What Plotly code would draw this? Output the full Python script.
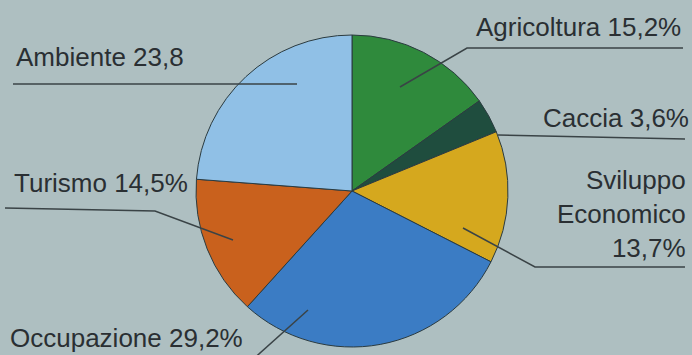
import plotly.graph_objects as go

# ---- data ----
categories = ["Agricoltura", "Caccia", "Sviluppo Economico", "Occupazione", "Turismo", "Ambiente"]
values = [15.2, 3.6, 13.7, 29.2, 14.5, 23.8]
label_texts = ["Agricoltura 15,2%", "Caccia 3,6%", "Sviluppo<br>Economico<br>13,7%",
               "Occupazione 29,2%", "Turismo 14,5%", "Ambiente 23,8"]
colors = ["#2f8a3c", "#1f4d3e", "#d5a81e", "#3b7cc4", "#c9611d", "#90c0e6"]

W, H = 692, 355
BG = "#aebfc1"
TEXT = "#2a2f33"
LINE = "#3a4346"

def px(x, y):
    return x / W, 1 - y / H

# pie geometry (pixels)
cx, cy, r = 352, 191, 156
x0, y0 = px(cx - r, cy + r)
x1, y1 = px(cx + r, cy - r)

fig = go.Figure(go.Pie(
    labels=categories,
    values=values,
    sort=False,
    direction="clockwise",
    rotation=0,
    marker=dict(colors=colors, line=dict(color="#2b3b40", width=1)),
    textinfo="none",
    hoverinfo="label+percent",
    showlegend=False,
    domain=dict(x=[x0, x1], y=[y0, y1]),
))

# label placements: (text index, x px, y px center, xanchor, align)
placements = [
    (5, 14, 57, "left", "left"),
    (0, 474, 27, "left", "left"),
    (1, 541, 118, "left", "left"),
    (2, 688, 214, "right", "right"),
    (4, 12, 183, "left", "left"),
    (3, 8, 338, "left", "left"),
]
annotations = []
for idx, x, y, xa, al in placements:
    ax, ay = px(x, y)
    annotations.append(dict(
        text=label_texts[idx], x=ax, y=ay, xref="paper", yref="paper",
        xanchor=xa, yanchor="middle", align=al, showarrow=False,
        font=dict(family="Liberation Sans, Arial, sans-serif", size=26, color=TEXT),
    ))

# leader lines (pixel polylines)
leaders = [
    [(13, 84), (297, 84)],
    [(683, 48), (467, 48), (400, 87)],
    [(498, 135), (685, 139)],
    [(463, 228), (535, 267), (685, 267)],
    [(5, 208), (155, 211), (233, 240)],
    [(308, 310), (250, 362)],
]
shapes = []
for pts in leaders:
    path = ""
    for i, (x, y) in enumerate(pts):
        a, b = px(x, y)
        path += ("M" if i == 0 else " L") + f" {a:.5f} {b:.5f}"
    shapes.append(dict(type="path", path=path, xref="paper", yref="paper",
                       line=dict(color=LINE, width=1.5)))

fig.update_layout(
    width=W, height=H,
    margin=dict(l=0, r=0, t=0, b=0),
    paper_bgcolor=BG, plot_bgcolor=BG,
    annotations=annotations, shapes=shapes,
)

fig.write_html("out.html")
